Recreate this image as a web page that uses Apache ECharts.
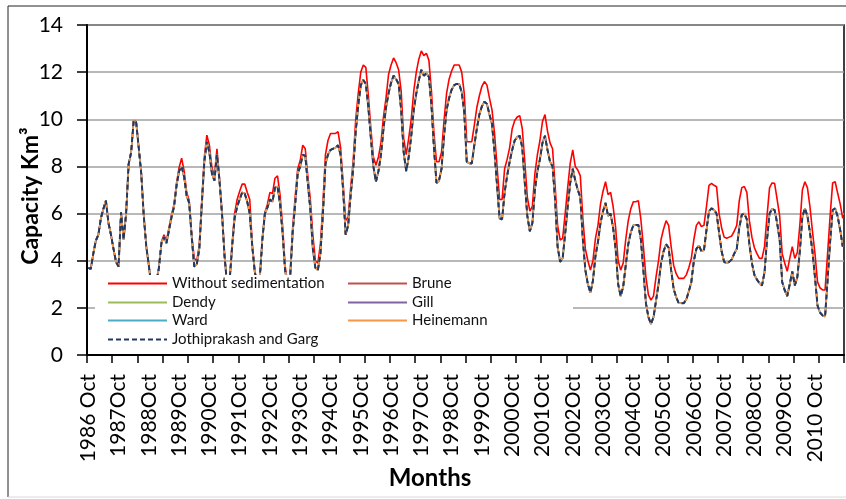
<!DOCTYPE html>
<html>
<head>
<meta charset="utf-8">
<script src="https://cdn.jsdelivr.net/npm/echarts@6/dist/echarts.min.js"></script>
<style>
  html, body { margin: 0; padding: 0; background: #fff; }
  #chart { width: 846px; height: 499px; }
</style>
</head>
<body>
<div id="chart"></div>
<script>
// Reservoir live capacity (Km³), monthly from October 1986 to September 2011.
const startYear = 1986;
const monthCount = 300;

// Capacity computed without any sedimentation loss
const capacityWithoutSedimentation = [
  3.70, 3.65, 4.30, 4.85, 5.10, 5.80, 6.20, 6.55, 5.60, 5.10,
  4.50, 3.95, 3.75, 6.05, 4.90, 6.00, 8.10, 8.60, 9.95, 9.90,
  8.80, 7.70, 5.90, 4.60, 3.80, 2.90, 2.70, 3.10, 3.70, 4.80,
  5.10, 4.85, 5.40, 5.95, 6.40, 7.30, 7.95, 8.35, 7.80, 6.90,
  6.55, 5.10, 4.10, 4.00, 4.65, 6.55, 8.40, 9.33, 8.90, 7.95,
  7.60, 8.75, 7.50, 6.10, 4.30, 3.00, 3.10, 4.70, 6.00, 6.60,
  6.95, 7.25, 7.25, 6.90, 6.60, 4.70, 3.60, 3.00, 3.30, 5.00,
  6.05, 6.40, 6.90, 6.85, 7.50, 7.60, 6.80, 5.50, 3.80, 3.00,
  3.40, 5.40, 6.70, 7.90, 8.25, 8.90, 8.75, 7.60, 6.60, 5.10,
  4.00, 3.90, 4.70, 6.40, 8.50, 9.10, 9.40, 9.40, 9.40, 9.47,
  8.80, 7.30, 5.70, 5.85, 7.10, 8.25, 10.00, 11.10, 12.00, 12.30,
  12.20, 11.00, 9.60, 8.40, 8.05, 8.40, 9.00, 10.10, 10.90, 11.90,
  12.30, 12.60, 12.40, 12.10, 11.20, 9.20, 8.50, 9.20, 10.00, 11.20,
  12.00, 12.55, 12.90, 12.70, 12.80, 12.50, 11.20, 9.40, 8.20, 8.20,
  8.60, 9.95, 11.10, 11.70, 12.05, 12.30, 12.30, 12.30, 12.00, 11.10,
  9.05, 9.05, 9.05, 9.75, 10.50, 11.00, 11.40, 11.60, 11.45, 10.90,
  10.40, 9.40, 8.00, 6.60, 6.60, 7.90, 8.30, 8.80, 9.60, 9.95,
  10.10, 10.15, 9.60, 8.20, 6.70, 6.10, 6.30, 7.70, 8.50, 9.10,
  9.90, 10.20, 9.50, 9.00, 8.75, 7.20, 5.50, 4.88, 4.95, 6.00,
  7.10, 8.13, 8.70, 8.00, 7.85, 7.60, 5.80, 4.50, 4.00, 3.60,
  4.00, 4.95, 5.50, 6.40, 6.95, 7.35, 6.80, 6.90, 6.30, 5.40,
  4.00, 3.60, 3.90, 4.90, 5.70, 6.20, 6.50, 6.50, 6.55, 5.75,
  4.60, 3.30, 2.55, 2.33, 2.50, 3.30, 4.00, 4.90, 5.35, 5.70,
  5.50, 4.60, 3.80, 3.45, 3.25, 3.25, 3.25, 3.40, 3.70, 4.10,
  4.90, 5.50, 5.65, 5.45, 5.50, 6.30, 7.20, 7.28, 7.20, 7.14,
  6.00, 5.40, 5.00, 4.95, 5.00, 5.05, 5.25, 5.50, 6.55, 7.10,
  7.15, 6.90, 5.70, 5.00, 4.55, 4.30, 4.10, 4.10, 4.60, 5.90,
  7.10, 7.30, 7.28, 6.60, 5.90, 4.30, 3.90, 3.55, 4.10, 4.60,
  4.10, 4.35, 5.50, 7.00, 7.35, 7.10, 6.30, 5.25, 4.30, 3.10,
  2.85, 2.76, 2.76, 4.30, 5.90, 7.30, 7.35, 6.86, 6.40, 5.80
];

// Capacity after sedimentation; the six estimation methods coincide at this scale
const capacityWithSedimentation = [
  3.70, 3.65, 4.30, 4.85, 5.10, 5.80, 6.20, 6.55, 5.60, 5.10,
  4.50, 3.95, 3.75, 6.05, 4.90, 6.00, 8.10, 8.60, 9.95, 9.85,
  8.80, 7.70, 5.90, 4.60, 3.80, 2.90, 2.70, 3.10, 3.70, 4.75,
  5.00, 4.75, 5.30, 5.85, 6.30, 7.20, 7.80, 8.00, 7.55, 6.75,
  6.45, 5.00, 3.75, 3.85, 4.50, 6.40, 8.20, 9.05, 8.60, 7.70,
  7.40, 8.50, 7.40, 6.00, 4.20, 3.00, 3.10, 4.60, 5.80, 6.30,
  6.60, 6.90, 6.85, 6.50, 6.00, 4.60, 3.50, 3.00, 3.30, 4.90,
  6.00, 6.25, 6.60, 6.50, 7.10, 7.15, 6.40, 5.20, 3.60, 2.90,
  3.30, 5.20, 6.40, 7.70, 8.00, 8.50, 8.45, 7.30, 6.20, 4.50,
  3.70, 3.60, 4.30, 6.00, 8.10, 8.50, 8.70, 8.75, 8.80, 8.90,
  8.50, 7.00, 5.10, 5.50, 6.80, 7.90, 9.50, 10.60, 11.45, 11.67,
  11.50, 10.50, 9.20, 8.00, 7.35, 7.80, 8.50, 9.60, 10.50, 11.10,
  11.55, 11.85, 11.70, 11.50, 10.40, 8.60, 7.80, 8.40, 9.30, 10.40,
  11.10, 11.65, 12.10, 11.85, 11.95, 11.80, 10.60, 8.80, 7.30, 7.40,
  7.90, 9.30, 10.40, 10.90, 11.25, 11.45, 11.50, 11.50, 11.15, 10.30,
  8.20, 8.13, 8.13, 8.90, 9.60, 10.20, 10.55, 10.75, 10.65, 10.20,
  9.80, 8.60, 7.20, 5.80, 5.75, 6.90, 7.60, 8.20, 8.70, 9.10,
  9.25, 9.30, 8.80, 7.30, 5.90, 5.25, 5.60, 7.00, 7.80, 8.30,
  9.00, 9.30, 8.70, 8.20, 8.00, 6.60, 4.60, 3.95, 4.10, 5.15,
  6.30, 7.30, 7.90, 7.40, 7.00, 6.70, 4.90, 3.60, 3.00, 2.65,
  3.15, 4.20, 4.80, 5.60, 6.10, 6.45, 5.90, 6.00, 5.40, 4.50,
  3.00, 2.50, 2.90, 3.80, 4.70, 5.20, 5.50, 5.52, 5.52, 4.90,
  3.60, 2.20, 1.60, 1.32, 1.60, 2.30, 3.00, 3.90, 4.40, 4.70,
  4.55, 3.60, 2.80, 2.45, 2.20, 2.20, 2.20, 2.35, 2.70, 3.10,
  4.00, 4.50, 4.65, 4.40, 4.45, 5.30, 6.10, 6.22, 6.15, 6.00,
  5.20, 4.40, 3.95, 3.89, 3.95, 4.05, 4.30, 4.50, 5.40, 5.95,
  6.00, 5.75, 4.70, 3.90, 3.40, 3.20, 3.05, 2.95, 3.50, 4.90,
  6.00, 6.20, 6.15, 5.60, 4.90, 3.10, 2.75, 2.50, 3.00, 3.55,
  2.95, 3.30, 4.40, 5.87, 6.22, 5.90, 5.20, 4.40, 3.30, 2.10,
  1.80, 1.68, 1.63, 3.20, 4.80, 6.15, 6.22, 5.87, 5.30, 4.60
];

const methodNames = ['Brune', 'Dendy', 'Gill', 'Ward', 'Heinemann', 'Jothiprakash and Garg'];
const methodColors = ['#c0504d', '#9bbb59', '#8064a2', '#4bacc6', '#f79646', '#1f3864'];

// Axis labels, one for each October
const yearLabels = [
  '1986 Oct', '1987Oct', '1988Oct', '1989Oct', '1990Oct', '1991Oct', '1992Oct',
  '1993Oct', '1994Oct', '1995Oct', '1996Oct', '1997Oct', '1998Oct', '1999Oct',
  '2000Oct', '2001Oct', '2002Oct', '2003Oct', '2004Oct', '2005Oct', '2006Oct',
  '2007Oct', '2008Oct', '2009Oct', '2010 Oct'
];
const yTicks = [0, 2, 4, 6, 8, 10, 12, 14];

const monthNames = ['Oct', 'Nov', 'Dec', 'Jan', 'Feb', 'Mar', 'Apr', 'May', 'Jun', 'Jul', 'Aug', 'Sep'];
const months = [];
for (let i = 0; i < monthCount; i++) {
  const yr = startYear + Math.floor((i + 9) / 12);
  months.push(yr + ' ' + monthNames[i % 12]);
}

const FONT = 'Lato, "Open Sans", sans-serif';

const series = [{
  name: 'Without sedimentation',
  type: 'line',
  data: capacityWithoutSedimentation,
  showSymbol: false,
  symbol: 'none',
  lineStyle: { color: '#ff0000', width: 1.6 },
  itemStyle: { color: '#ff0000' },
  z: 2
}];
methodNames.forEach((name, k) => {
  const dashed = name === 'Jothiprakash and Garg';
  series.push({
    name: name,
    type: 'line',
    data: capacityWithSedimentation,
    showSymbol: false,
    symbol: 'none',
    lineStyle: {
      color: methodColors[k],
      width: dashed ? 2 : 1.6,
      type: dashed ? [5, 3] : 'solid'
    },
    itemStyle: { color: methodColors[k] },
    z: 3 + k
  });
});

// Legend entries laid out in two columns over a white panel
const legendCells = [
  { name: 'Without sedimentation', left: 107, top: 276 },
  { name: 'Brune', left: 347, top: 276 },
  { name: 'Dendy', left: 107, top: 295 },
  { name: 'Gill', left: 347, top: 295 },
  { name: 'Ward', left: 107, top: 313 },
  { name: 'Heinemann', left: 347, top: 313 },
  { name: 'Jothiprakash and Garg', left: 107, top: 332 }
];
const legends = legendCells.map(c => ({
  data: [c.name],
  left: c.left,
  top: c.top,
  padding: 0,
  itemWidth: 59,
  itemHeight: 14,
  selectedMode: false,
  z: 30,
  itemStyle: { opacity: 0, borderWidth: 0 },
  textStyle: { fontFamily: FONT, fontSize: 15, color: '#111', lineHeight: 14 }
}));

const chart = echarts.init(document.getElementById('chart'), null, { renderer: 'canvas' });
chart.setOption({
  animation: false,
  backgroundColor: '#fff',
  grid: {
    left: 87, top: 25, width: 757, height: 330,
    show: true, borderColor: '#000', borderWidth: 1.5, backgroundColor: 'transparent'
  },
  legend: legends,
  xAxis: {
    type: 'category',
    data: months,
    boundaryGap: true,
    axisLine: { lineStyle: { color: '#000', width: 2 } },
    axisTick: { show: true, interval: 9, length: 8, inside: false, lineStyle: { color: '#000', width: 1.5 } },
    axisLabel: {
      interval: 11,
      rotate: 90,
      margin: 19,
      fontFamily: FONT,
      fontSize: 21,
      color: '#000',
      formatter: (v, idx) => yearLabels[Math.round(idx / 12)]
    },
    splitLine: { show: false }
  },
  yAxis: {
    type: 'value',
    min: yTicks[0],
    max: yTicks[yTicks.length - 1],
    interval: 2,
    axisLine: { show: true, lineStyle: { color: '#000', width: 2 } },
    axisTick: { show: true, length: 10, lineStyle: { color: '#000', width: 1.5 } },
    axisLabel: { margin: 24, fontFamily: FONT, fontSize: 21, color: '#000' },
    splitLine: { show: true, lineStyle: { color: '#a0a0a0', width: 1.5 } }
  },
  graphic: [
    { type: 'line', shape: { x1: 8, y1: 6, x2: 8, y2: 497 }, style: { stroke: '#222', lineWidth: 1 }, z: 1 },
    { type: 'line', shape: { x1: 8, y1: 6, x2: 846, y2: 6 }, style: { stroke: '#222', lineWidth: 1 }, z: 1 },
    { type: 'line', shape: { x1: 8, y1: 497, x2: 846, y2: 497 }, style: { stroke: '#d8d8d8', lineWidth: 1 }, z: 1 },
    { type: 'rect', shape: { x: 95, y: 275, width: 478, height: 77 }, style: { fill: '#fff' }, z: 20 },
    {
      type: 'text', x: 430, y: 478, z: 20,
      style: { text: 'Months', font: 'bold 24px ' + FONT, fill: '#000', textAlign: 'center', textVerticalAlign: 'middle' }
    },
    {
      type: 'text', x: 31, y: 196, rotation: Math.PI / 2, z: 20,
      style: { text: 'Capacity Km³', font: 'bold 23px ' + FONT, fill: '#000', textAlign: 'center', textVerticalAlign: 'middle' }
    }
  ],
  series: series
});
</script>
</body>
</html>
